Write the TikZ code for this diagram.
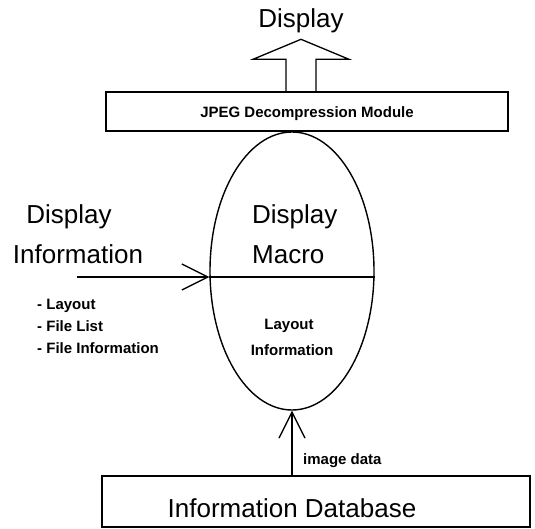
\documentclass[tikz,border=0pt]{standalone}
\usepackage{fontspec}
\setmainfont{Liberation Sans}
\usetikzlibrary{shapes.geometric,arrows.meta,calc}

\begin{document}
\begin{tikzpicture}[x=1pt,y=-1pt,
  big/.style={font=\fontsize{26}{30}\selectfont, inner sep=0pt},
  small/.style={font=\bfseries\fontsize{15}{18}\selectfont, inner sep=0pt},
  box/.style={draw, line width=1.4pt, inner sep=0pt},
  barb/.style={line width=1.3pt, -{Straight Barb[length=26pt,width=26pt,line width=1.3pt]}}]
\useasboundingbox (0,0) rectangle (535,528);

% modules
\node[box, minimum width=402pt, minimum height=39pt] (jpeg) at (307,111.5) {};
\node[small, anchor=base] (jpegtxt) at (307,117) {JPEG Decompression Module};
\node[box, minimum width=428pt, minimum height=51pt] (db) at (316,501.5) {};
\node[big, anchor=base] (dbtxt) at (292,517) {Information Database};

% display macro
\node[draw, ellipse, line width=1.4pt, minimum width=164pt, minimum height=278pt, inner sep=0pt] (ell) at (292,271) {};
\coordinate (lw) at ($(ell.west)+(0,6)$);
\coordinate (le) at ($(ell.east)+(0,6)$);
\draw[line width=1.3pt] (lw) -- (le);
\node[big, anchor=base west] (mac1) at (252,223) {Display};
\node[big, anchor=base west] (mac2) at (252,263) {Macro};
\node[small, anchor=base] (lay1) at (289,329) {Layout};
\node[small, anchor=base] (lay2) at (292,355) {Information};

% output to display
\node[big, anchor=base] (out) at (301,27) {Display};
\coordinate (ub) at (jpeg.north -| out);
\draw[line width=1.3pt, line join=miter]
  (ub) ++(-15,0) -- ++(0,-32) -- ++(-33,0) -- ++(48,-20) -- ++(48,20) -- ++(-33,0) -- ++(0,32);

% display information input
\node[big, anchor=base] (din1) at (69,223) {Display};
\node[big, anchor=base] (din2) at (78,263) {Information};
\node[small, anchor=base west] (li1) at (37,309) {- Layout};
\node[small, anchor=base west] (li2) at (37,331) {- File List};
\node[small, anchor=base west] (li3) at (37,353) {- File Information};
\coordinate (dinstart) at (77,277);
\draw[barb] (dinstart) -- (lw);

% image data
\draw[barb] (db.north -| ell.south) -- (ell.south);
\node[small, anchor=base west] (imgtxt) at (303,464) {image data};
\end{tikzpicture}
\end{document}
